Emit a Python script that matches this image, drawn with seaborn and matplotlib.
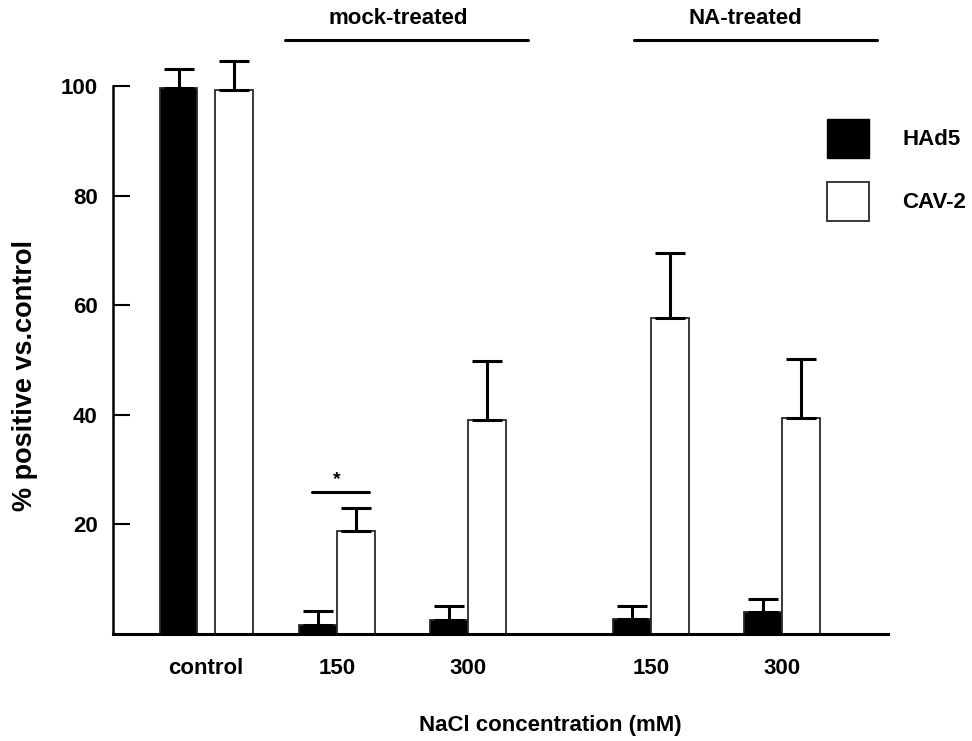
import numpy as np
import pandas as pd
import matplotlib
matplotlib.use("Agg")
import matplotlib.pyplot as plt
from matplotlib.patches import Patch
import seaborn as sns

# ---------------- data ----------------
groups = ["control", "150", "300", "150", "300"]
treatments = ["mock-treated", "NA-treated"]
series = ["HAd5", "CAV-2"]
had5_values = [99.6, 1.6, 2.6, 2.7, 4.0]
had5_err = [3.5, 2.6, 2.5, 2.4, 2.4]
cav2_values = [99.3, 18.8, 39.1, 57.7, 39.4]
cav2_err = [5.3, 4.2, 10.7, 11.8, 10.8]
y_ticks = [20, 40, 60, 80, 100]
y_label = "% positive vs.control"
x_label = "NaCl concentration (mM)"
sig_mark = "*"

# ---------------- layout ----------------
group_pos = np.array([0.0, 1.0, 2.0, 3.4, 4.4])
half_gap = np.array([0.21, 0.145, 0.145, 0.145, 0.145])
had5_pos = group_pos - half_gap
cav2_pos = group_pos + half_gap

df = pd.DataFrame({
    "pos": np.concatenate([had5_pos, cav2_pos]),
    "value": had5_values + cav2_values,
    "series": [series[0]] * len(groups) + [series[1]] * len(groups),
})

sns.set_theme(style="white")
plt.rcParams["font.family"] = ["Liberation Sans", "DejaVu Sans"]
plt.rcParams["font.weight"] = "bold"
plt.rcParams["axes.labelweight"] = "bold"
plt.rcParams["text.color"] = "black"
plt.rcParams["axes.labelcolor"] = "black"
plt.rcParams["xtick.color"] = "black"
plt.rcParams["ytick.color"] = "black"

fig = plt.figure(figsize=(9.72, 7.41), dpi=100)
ax = fig.add_axes([113 / 972, 107 / 741, 775 / 972, 634 / 741])

sns.barplot(data=df, x="pos", y="value", hue="series",
            palette={"HAd5": "black", "CAV-2": "white"},
            native_scale=True, dodge=False, width=1.0, errorbar=None,
            edgecolor="#2a2a2a", linewidth=1.3, legend=False, ax=ax, zorder=2)

for pos, vals, errs in [(had5_pos, had5_values, had5_err), (cav2_pos, cav2_values, cav2_err)]:
    ax.errorbar(pos, vals, yerr=[np.zeros(len(errs)), errs], fmt="none",
                ecolor="black", elinewidth=2.2, capsize=10.5, capthick=2.2,
                zorder=3, clip_on=False)

ax.set_xlim(-0.71, 5.206)
ax.set_ylim(0, 115.7)

for s in ["top", "right"]:
    ax.spines[s].set_visible(False)
ax.spines["left"].set_bounds(0, 100)
ax.spines["left"].set_linewidth(1.8)
ax.spines["bottom"].set_linewidth(2.2)
ax.spines["left"].set_color("black")
ax.spines["bottom"].set_color("black")

ax.set_yticks(y_ticks)
ax.set_yticklabels([str(t) for t in y_ticks], fontsize=16, fontweight="bold", color="black")
ax.tick_params(axis="y", direction="in", length=12.5, width=1.5, pad=11, left=True, color="black")
ax.set_xticks(group_pos)
ax.set_xticklabels(groups, fontsize=16, fontweight="bold", color="black")
ax.tick_params(axis="x", length=0, pad=17)

ax.set_xlabel(x_label, fontsize=16, fontweight="bold", color="black")
ax.xaxis.set_label_coords(0.564, -0.127)
ax.set_ylabel(y_label, fontsize=19.5, fontweight="bold", color="black")
ax.yaxis.set_label_coords(-0.0968, 0.4085)

# group headings
headings = [(treatments[0], 0.60, 2.46, 1.47), (treatments[1], 3.27, 5.12, 4.12)]
for label, x0, x1, xt in headings:
    ax.plot([x0, x1], [108.4, 108.4], color="black", lw=2.2, clip_on=False)
    ax.text(xt, 112.4, label, ha="center", va="center", fontsize=16,
            fontweight="bold", color="black", clip_on=False)

# significance
ax.plot([group_pos[1] - 0.19, group_pos[1] + 0.245], [25.9, 25.9], color="black", lw=2.2)
ax.text(group_pos[1], 28.2, sig_mark, ha="center", va="center", fontsize=14,
        fontweight="bold", color="black")

handles = [Patch(facecolor="black", edgecolor="black"),
           Patch(facecolor="white", edgecolor="#2a2a2a", linewidth=1.3)]
leg = ax.legend(handles=handles, labels=series, loc="upper left",
                bbox_to_anchor=(827 / 972, 1 - 119 / 741), bbox_transform=fig.transFigure,
                frameon=False, handlelength=1.89, handleheight=2.31,
                handletextpad=1.49, labelspacing=1.08, borderpad=0, borderaxespad=0,
                prop={"weight": "bold", "size": 16})
for t in leg.get_texts():
    t.set_color("black")

fig.savefig("out.png", dpi=100)
